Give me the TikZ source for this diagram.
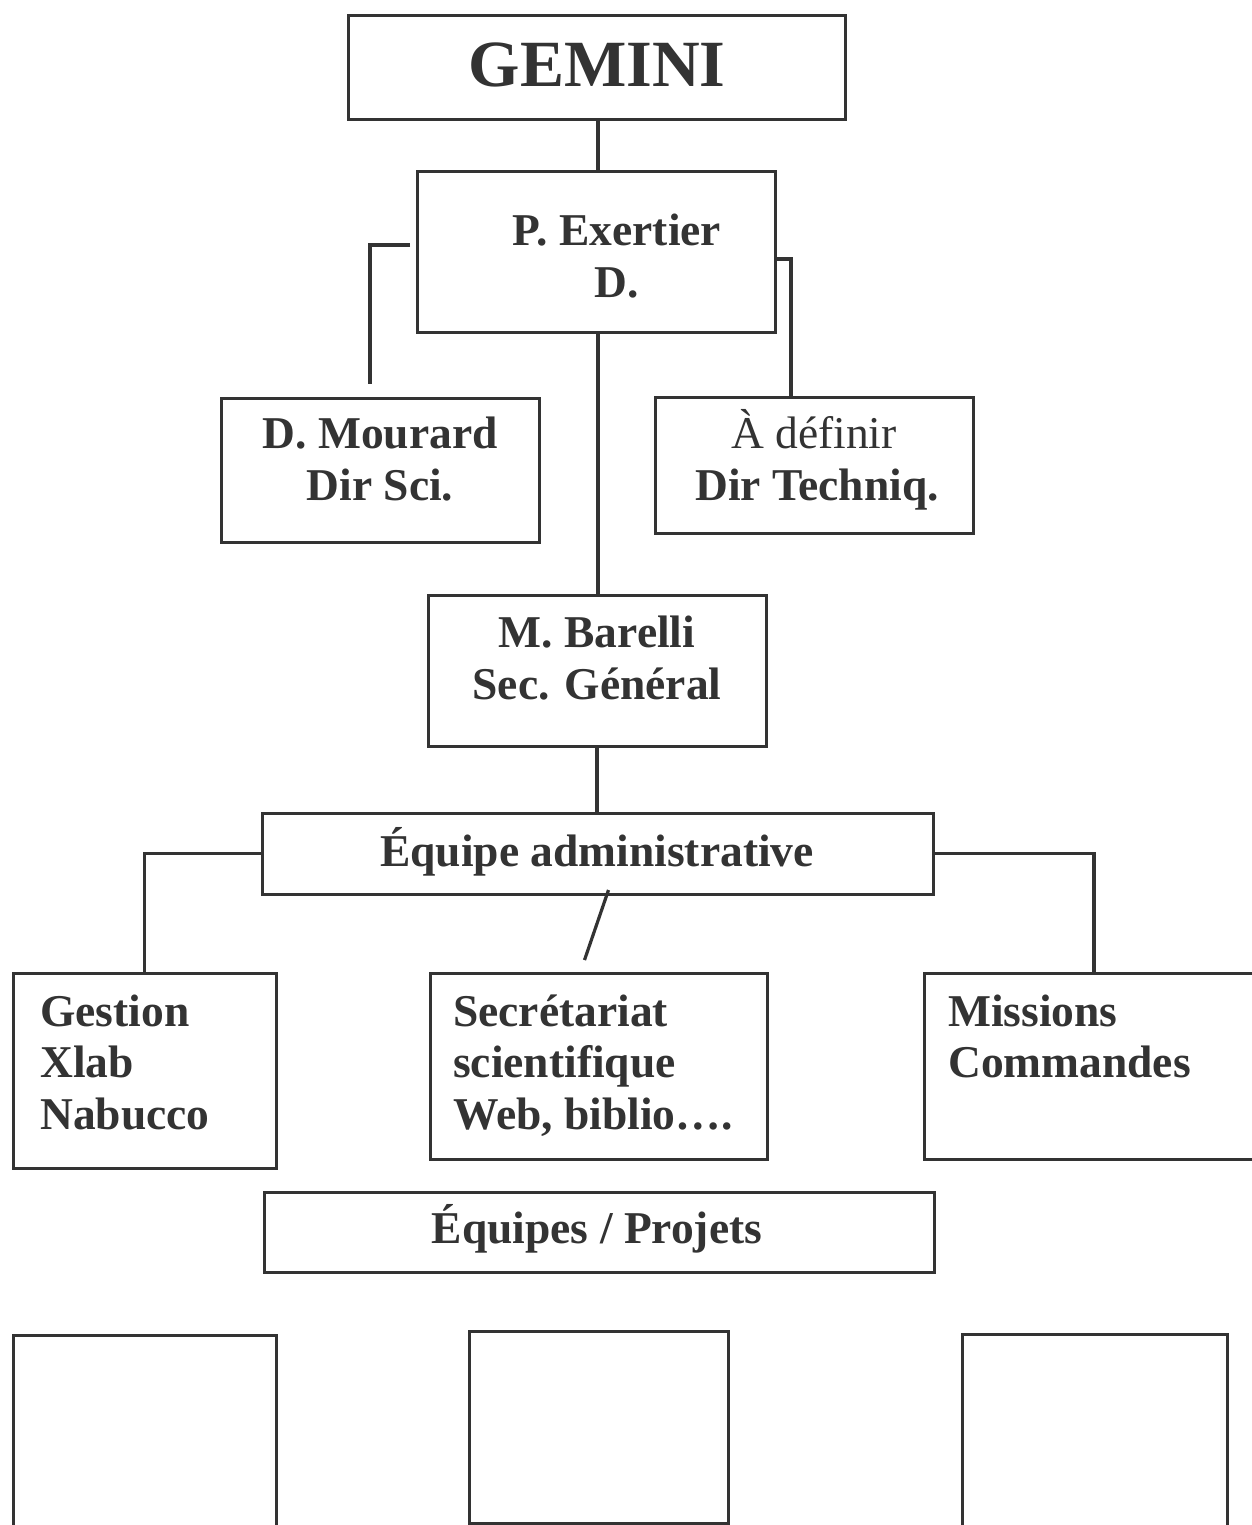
\documentclass[tikz,border=0pt]{standalone}
\usepackage{fontspec}
\setmainfont{Liberation Serif}
\definecolor{ink}{HTML}{333333}
\begin{document}
\begin{tikzpicture}[x=1pt,y=-1pt,
  box/.style={draw=ink, line width=3pt, rectangle, inner sep=0pt, outer sep=0pt},
  link/.style={draw=ink, line width=3.2pt},
  lbl/.style={text=ink, inner sep=0pt, anchor=base, font=\fontsize{45.5}{52}\selectfont\bfseries},
  lbll/.style={lbl, anchor=base west},
  lblr/.style={lbl, font=\fontsize{45.5}{52}\selectfont}]
\clip (0,0) rectangle (1252,1525);
\fill[white] (0,0) rectangle (1252,1525);
% boxes
\node[box, minimum width=497pt, minimum height=104pt] (gemini) at (597,68) {};
\node[box, minimum width=358pt, minimum height=160pt] (exertier) at (596,252) {};
\node[box, minimum width=318pt, minimum height=144pt] (mourard) at (380,470) {};
\node[box, minimum width=318pt, minimum height=136pt] (definir) at (814,465) {};
\node[box, minimum width=338pt, minimum height=151pt] (barelli) at (597,670.5) {};
\node[box, minimum width=671pt, minimum height=81pt] (equipe) at (597.5,853.5) {};
\node[box, minimum width=263pt, minimum height=195pt] (gestion) at (144.5,1070.5) {};
\node[box, minimum width=337pt, minimum height=186pt] (secr) at (598.5,1066) {};
\node[box, minimum width=340pt, minimum height=186pt] (missions) at (1094,1066) {};
\node[box, minimum width=670pt, minimum height=80pt] (projets) at (599,1232) {};
\node[box, minimum width=263pt, minimum height=240pt] (pa) at (144.5,1455) {};
\node[box, minimum width=259pt, minimum height=192pt] (pb) at (598.5,1427) {};
\node[box, minimum width=265pt, minimum height=240pt] (pc) at (1094.5,1454) {};
% texts
\node[lbl, font=\fontsize{66}{72}\selectfont\bfseries] (tgemini) at (597,87) {GEMINI};
\node[lbl] (tex1) at (617,245) {P. Exertier};
\node[lbl] (tex2) at (617,297) {D.};
\node[lbl] (tmo1) at (380,448) {D. Mourard};
\node[lbl] (tmo2) at (380,500) {Dir Sci.};
\node[lblr] (tde1) at (814,448) {À définir};
\node[lbl] (tde2) at (817,500) {Dir Techniq.};
\node[lbl] (tba1) at (597,647) {M. Barelli};
\node[lbl] (tba2) at (597,699) {Sec. Général};
\node[lbl] (teq) at (597,866) {Équipe administrative};
\node[lbll] (tg1) at (40,1026) {Gestion};
\node[lbll] (tg2) at (40,1077) {Xlab};
\node[lbll] (tg3) at (40,1129) {Nabucco};
\node[lbll] (ts1) at (453,1026) {Secrétariat};
\node[lbll] (ts2) at (453,1077) {scientifique};
\node[lbll] (ts3) at (453,1129) {Web, biblio….};
\node[lbll] (tm1) at (948,1026) {Missions};
\node[lbll] (tm2) at (948,1077) {Commandes};
\node[lbl] (tpr) at (597,1243) {Équipes / Projets};
% connectors
\coordinate (lbA) at (410,245);
\coordinate (lbB) at (370,384);
\coordinate (rbA) at (775,259);
\coordinate (rbB) at (791,397);
\draw[link] (gemini.south -| 598,0) -- (exertier.north -| 598,0);
\draw[link] (lbA) -| (lbB);
\draw[link] (rbA) -| (rbB);
\draw[link] (exertier.south -| 598,0) -- (barelli.north -| 598,0);
\draw[link] (barelli.south) -- (equipe.north -| barelli.south);
\draw[link] (equipe.west) -| (gestion.north);
\draw[link] (equipe.east) -| (missions.north);
\draw[link] ([xshift=11pt,yshift=4pt]equipe.south) -- ([xshift=-14pt,yshift=13pt]secr.north);
\end{tikzpicture}
\end{document}
